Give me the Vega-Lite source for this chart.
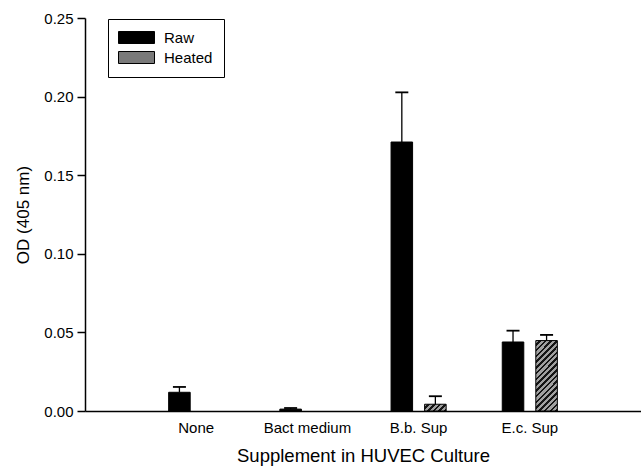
{
  "$schema": "https://vega.github.io/schema/vega-lite/v6.json",
  "width": 556,
  "height": 393,
  "autosize": {"type": "none"},
  "padding": {"left": 85, "top": 18, "right": 0, "bottom": 59},
  "background": "white",
  "config": {
    "view": {"stroke": null},
    "font": "Liberation Sans",
    "axis": {
      "domainColor": "black", "domainWidth": 1.5, "tickColor": "black", "tickWidth": 1.5,
      "labelColor": "black", "titleColor": "black", "labelFont": "Liberation Sans", "titleFont": "Liberation Sans",
      "labelFontSize": 15, "titleFontWeight": "normal", "grid": false
    }
  },
  "data": {
    "values": [
      {"group": "None", "treatment": "Raw", "od": 0.0119, "err_top": 0.0153},
      {"group": "None", "treatment": "Heated", "od": 0, "err_top": 0},
      {"group": "Bact medium", "treatment": "Raw", "od": 0.0012, "err_top": 0.0019},
      {"group": "Bact medium", "treatment": "Heated", "od": 0, "err_top": 0},
      {"group": "B.b. Sup", "treatment": "Raw", "od": 0.1711, "err_top": 0.2027},
      {"group": "B.b. Sup", "treatment": "Heated", "od": 0.0043, "err_top": 0.0094},
      {"group": "E.c. Sup", "treatment": "Raw", "od": 0.0439, "err_top": 0.0511},
      {"group": "E.c. Sup", "treatment": "Heated", "od": 0.0448, "err_top": 0.0484}
    ]
  },
  "encoding": {
    "x": {
      "field": "group", "type": "nominal",
      "sort": ["None", "Bact medium", "B.b. Sup", "E.c. Sup"],
      "scale": {"paddingInner": 0, "paddingOuter": 0.5},
      "axis": {"title": "Supplement in HUVEC Culture", "ticks": false, "tickSize": 0, "labelAngle": 0, "labelPadding": 9, "titlePadding": 11, "titleFontSize": 18.5}
    },
    "xOffset": {
      "field": "treatment", "type": "nominal", "sort": ["Raw", "Heated"],
      "scale": {"paddingInner": 0.358, "paddingOuter": 0.836}
    }
  },
  "layer": [
    {
      "transform": [{"filter": "datum.od > 0"}],
      "mark": {"type": "bar", "stroke": "black", "strokeWidth": 1},
      "encoding": {
        "y": {
          "field": "od", "type": "quantitative", "title": "OD (405 nm)",
          "scale": {"domain": [0, 0.25], "nice": false, "zero": true},
          "axis": {"values": [0, 0.05, 0.1, 0.15, 0.2, 0.25], "format": ".2f", "tickSize": 8, "labelPadding": 4, "titlePadding": 11, "titleFontSize": 17}
        },
        "fill": {
          "field": "treatment", "type": "nominal",
          "scale": {"domain": ["Raw", "Heated"], "range": ["black", "#7a7a7a"]},
          "condition": [
            {"test": "datum.treatment === 'Heated' && datum.group === 'E.c. Sup'", "value": {"gradient": "linear", "x1": 0, "y1": 0, "x2": 0.369, "y2": 1.195, "stops": [
              {"offset": 0, "color": "#a0a0a0"}, {"offset": 0.0344, "color": "#a0a0a0"}, {"offset": 0.0344, "color": "#151515"}, {"offset": 0.0625, "color": "#151515"},
              {"offset": 0.0625, "color": "#a0a0a0"}, {"offset": 0.0969, "color": "#a0a0a0"}, {"offset": 0.0969, "color": "#151515"}, {"offset": 0.125, "color": "#151515"},
              {"offset": 0.125, "color": "#a0a0a0"}, {"offset": 0.1594, "color": "#a0a0a0"}, {"offset": 0.1594, "color": "#151515"}, {"offset": 0.1875, "color": "#151515"},
              {"offset": 0.1875, "color": "#a0a0a0"}, {"offset": 0.2219, "color": "#a0a0a0"}, {"offset": 0.2219, "color": "#151515"}, {"offset": 0.25, "color": "#151515"},
              {"offset": 0.25, "color": "#a0a0a0"}, {"offset": 0.2844, "color": "#a0a0a0"}, {"offset": 0.2844, "color": "#151515"}, {"offset": 0.3125, "color": "#151515"},
              {"offset": 0.3125, "color": "#a0a0a0"}, {"offset": 0.3469, "color": "#a0a0a0"}, {"offset": 0.3469, "color": "#151515"}, {"offset": 0.375, "color": "#151515"},
              {"offset": 0.375, "color": "#a0a0a0"}, {"offset": 0.4094, "color": "#a0a0a0"}, {"offset": 0.4094, "color": "#151515"}, {"offset": 0.4375, "color": "#151515"},
              {"offset": 0.4375, "color": "#a0a0a0"}, {"offset": 0.4719, "color": "#a0a0a0"}, {"offset": 0.4719, "color": "#151515"}, {"offset": 0.5, "color": "#151515"},
              {"offset": 0.5, "color": "#a0a0a0"}, {"offset": 0.5344, "color": "#a0a0a0"}, {"offset": 0.5344, "color": "#151515"}, {"offset": 0.5625, "color": "#151515"},
              {"offset": 0.5625, "color": "#a0a0a0"}, {"offset": 0.5969, "color": "#a0a0a0"}, {"offset": 0.5969, "color": "#151515"}, {"offset": 0.625, "color": "#151515"},
              {"offset": 0.625, "color": "#a0a0a0"}, {"offset": 0.6594, "color": "#a0a0a0"}, {"offset": 0.6594, "color": "#151515"}, {"offset": 0.6875, "color": "#151515"},
              {"offset": 0.6875, "color": "#a0a0a0"}, {"offset": 0.7219, "color": "#a0a0a0"}, {"offset": 0.7219, "color": "#151515"}, {"offset": 0.75, "color": "#151515"},
              {"offset": 0.75, "color": "#a0a0a0"}, {"offset": 0.7844, "color": "#a0a0a0"}, {"offset": 0.7844, "color": "#151515"}, {"offset": 0.8125, "color": "#151515"},
              {"offset": 0.8125, "color": "#a0a0a0"}, {"offset": 0.8469, "color": "#a0a0a0"}, {"offset": 0.8469, "color": "#151515"}, {"offset": 0.875, "color": "#151515"},
              {"offset": 0.875, "color": "#a0a0a0"}, {"offset": 0.9094, "color": "#a0a0a0"}, {"offset": 0.9094, "color": "#151515"}, {"offset": 0.9375, "color": "#151515"},
              {"offset": 0.9375, "color": "#a0a0a0"}, {"offset": 0.9719, "color": "#a0a0a0"}, {"offset": 0.9719, "color": "#151515"}, {"offset": 1, "color": "#151515"}
            ]}},
            {"test": "datum.treatment === 'Heated'", "value": {"gradient": "linear", "x1": 0, "y1": 0, "x2": 1.196, "y2": 0.3755, "stops": [
              {"offset": 0, "color": "#a0a0a0"}, {"offset": 0.11, "color": "#a0a0a0"}, {"offset": 0.11, "color": "#151515"}, {"offset": 0.2, "color": "#151515"},
              {"offset": 0.2, "color": "#a0a0a0"}, {"offset": 0.31, "color": "#a0a0a0"}, {"offset": 0.31, "color": "#151515"}, {"offset": 0.4, "color": "#151515"},
              {"offset": 0.4, "color": "#a0a0a0"}, {"offset": 0.51, "color": "#a0a0a0"}, {"offset": 0.51, "color": "#151515"}, {"offset": 0.6, "color": "#151515"},
              {"offset": 0.6, "color": "#a0a0a0"}, {"offset": 0.71, "color": "#a0a0a0"}, {"offset": 0.71, "color": "#151515"}, {"offset": 0.8, "color": "#151515"},
              {"offset": 0.8, "color": "#a0a0a0"}, {"offset": 0.91, "color": "#a0a0a0"}, {"offset": 0.91, "color": "#151515"}, {"offset": 1, "color": "#151515"}
            ]}}
          ],
          "legend": {
            "orient": "none", "legendX": 23, "legendY": 1, "title": null,
            "symbolType": "M-3,-1H3V1H-3Z", "symbolSize": 144, "symbolOffset": 10, "labelOffset": 20,
            "padding": 11, "rowPadding": 3, "strokeColor": "black", "fillColor": "white",
            "symbolStrokeColor": "black", "symbolStrokeWidth": 1, "symbolOpacity": 1,
            "labelFontSize": 15, "labelColor": "black", "labelFont": "Liberation Sans"
          }
        }
      }
    },
    {
      "transform": [{"filter": "datum.err_top > datum.od"}],
      "mark": {"type": "rule", "color": "black", "strokeWidth": 1.3},
      "encoding": {
        "y": {"field": "od", "type": "quantitative", "title": "OD (405 nm)"},
        "y2": {"field": "err_top"}
      }
    },
    {
      "transform": [{"filter": "datum.err_top > datum.od"}],
      "mark": {"type": "tick", "color": "black", "thickness": 1.8, "size": 13, "opacity": 1},
      "encoding": {
        "y": {"field": "err_top", "type": "quantitative", "title": "OD (405 nm)"}
      }
    }
  ]
}
